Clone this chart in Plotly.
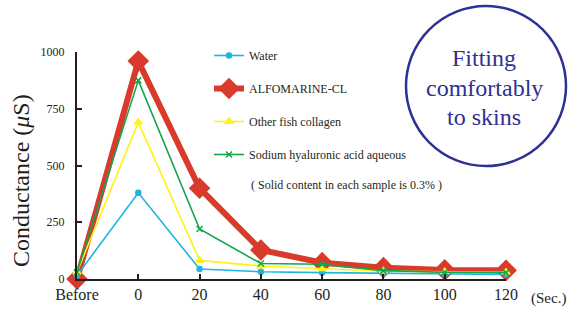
import plotly.graph_objects as go

categories = ["Before", "0", "20", "40", "60", "80", "100", "120"]
water = [15, 380, 44, 32, 28, 25, 22, 20]
alfomarine = [0, 960, 400, 128, 72, 50, 40, 38]
other_fish = [30, 690, 82, 57, 45, 35, 32, 30]
sodium_ha = [30, 875, 220, 68, 65, 37, 30, 28]
y_ticks = [0, 250, 500, 750, 1000]

FONT = "Liberation Serif, Times New Roman, serif"
series = [
    # name, values, color, width, symbol, size, legend rank
    ("ALFOMARINE-CL", alfomarine, "#d93a2b", 6, "diamond", 15, 2),
    ("Water", water, "#1fb5e0", 1.6, "circle", 5, 1),
    ("Other fish collagen", other_fish, "#fff21a", 1.6, "triangle-up", 7, 3),
    ("Sodium hyaluronic acid aqueous", sodium_ha, "#12a64f", 1.6, "x-thin-open", 6, 4),
]

fig = go.Figure()
for name, vals, col, w, sym, sz, rank in series:
    fig.add_trace(go.Scatter(
        x=categories, y=vals, name=name, mode="lines+markers",
        line=dict(color=col, width=w),
        marker=dict(symbol=sym, size=sz, color=col, line=dict(color=col, width=1.5)),
        cliponaxis=False, legendgroup=name, legendrank=rank,
    ))

L, R, T, B = 77, 69, 52, 30
PW, PH = 575 - L - R, 309 - T - B

def px_x(p):
    return (p - L) / PW

def px_y(p):
    return (309 - B - p) / PH

fig.update_layout(
    width=575, height=309,
    margin=dict(l=L, r=R, t=T, b=B, autoexpand=False),
    plot_bgcolor="white", paper_bgcolor="white",
    font=dict(family=FONT, color="#231f20"),
    showlegend=True,
    legend=dict(
        x=px_x(209), y=px_y(41),
        xanchor="left", yanchor="top",
        font=dict(size=12, family=FONT, color="#231f20"),
        bgcolor="rgba(0,0,0,0)", tracegroupgap=14, itemwidth=30,
    ),
    xaxis=dict(
        type="category", range=[0, 7], showgrid=False, zeroline=False,
        showline=True, linecolor="#231f20", linewidth=2,
        ticks="inside", ticklen=5, tickwidth=2, tickcolor="#231f20",
        tickfont=dict(size=16, family=FONT, color="#231f20"),
    ),
    yaxis=dict(
        range=[0, 1000], tickvals=y_ticks, showgrid=False, zeroline=False,
        showline=True, linecolor="#231f20", linewidth=2,
        ticks="inside", ticklen=5, tickwidth=2, tickcolor="#231f20",
        tickfont=dict(size=12, family=FONT, color="#231f20"),
        ticklabelstandoff=8,
    ),
)

# Y axis title (placed to match reference position)
fig.add_annotation(
    xref="paper", yref="paper", x=px_x(21), y=px_y(181),
    text="Conductance (<i>μ</i>S)", showarrow=False, textangle=-90,
    xanchor="center", yanchor="middle",
    font=dict(size=24, family=FONT, color="#231f20"),
)
fig.add_annotation(
    xref="paper", yref="paper", x=px_x(249), y=px_y(185),
    text="( Solid content in each sample is 0.3% )", showarrow=False,
    xanchor="left", yanchor="middle", font=dict(size=12, family=FONT, color="#231f20"),
)
fig.add_annotation(
    xref="paper", yref="paper", x=px_x(548), y=px_y(298),
    text="(Sec.)", showarrow=False, xanchor="center", yanchor="middle",
    font=dict(size=15, family=FONT, color="#231f20"),
)

# Circle badge
cx, cy, r = 486, 86, 80
fig.add_shape(
    type="circle", xref="paper", yref="paper",
    x0=px_x(cx - r), x1=px_x(cx + r),
    y0=px_y(cy + r), y1=px_y(cy - r),
    line=dict(color="#2e3192", width=2.5), fillcolor="rgba(0,0,0,0)",
)
for txt, ty in [("Fitting", 58), ("comfortably", 88), ("to skins", 117)]:
    fig.add_annotation(
        xref="paper", yref="paper", x=px_x(484), y=px_y(ty),
        text=txt, showarrow=False, xanchor="center", yanchor="middle",
        font=dict(size=24, family=FONT, color="#2e3192"),
    )

fig.write_html(
    "out.html",
    config={"displayModeBar": False},
    post_script="document.body.style.margin='0';document.body.style.overflow='hidden';",
)
